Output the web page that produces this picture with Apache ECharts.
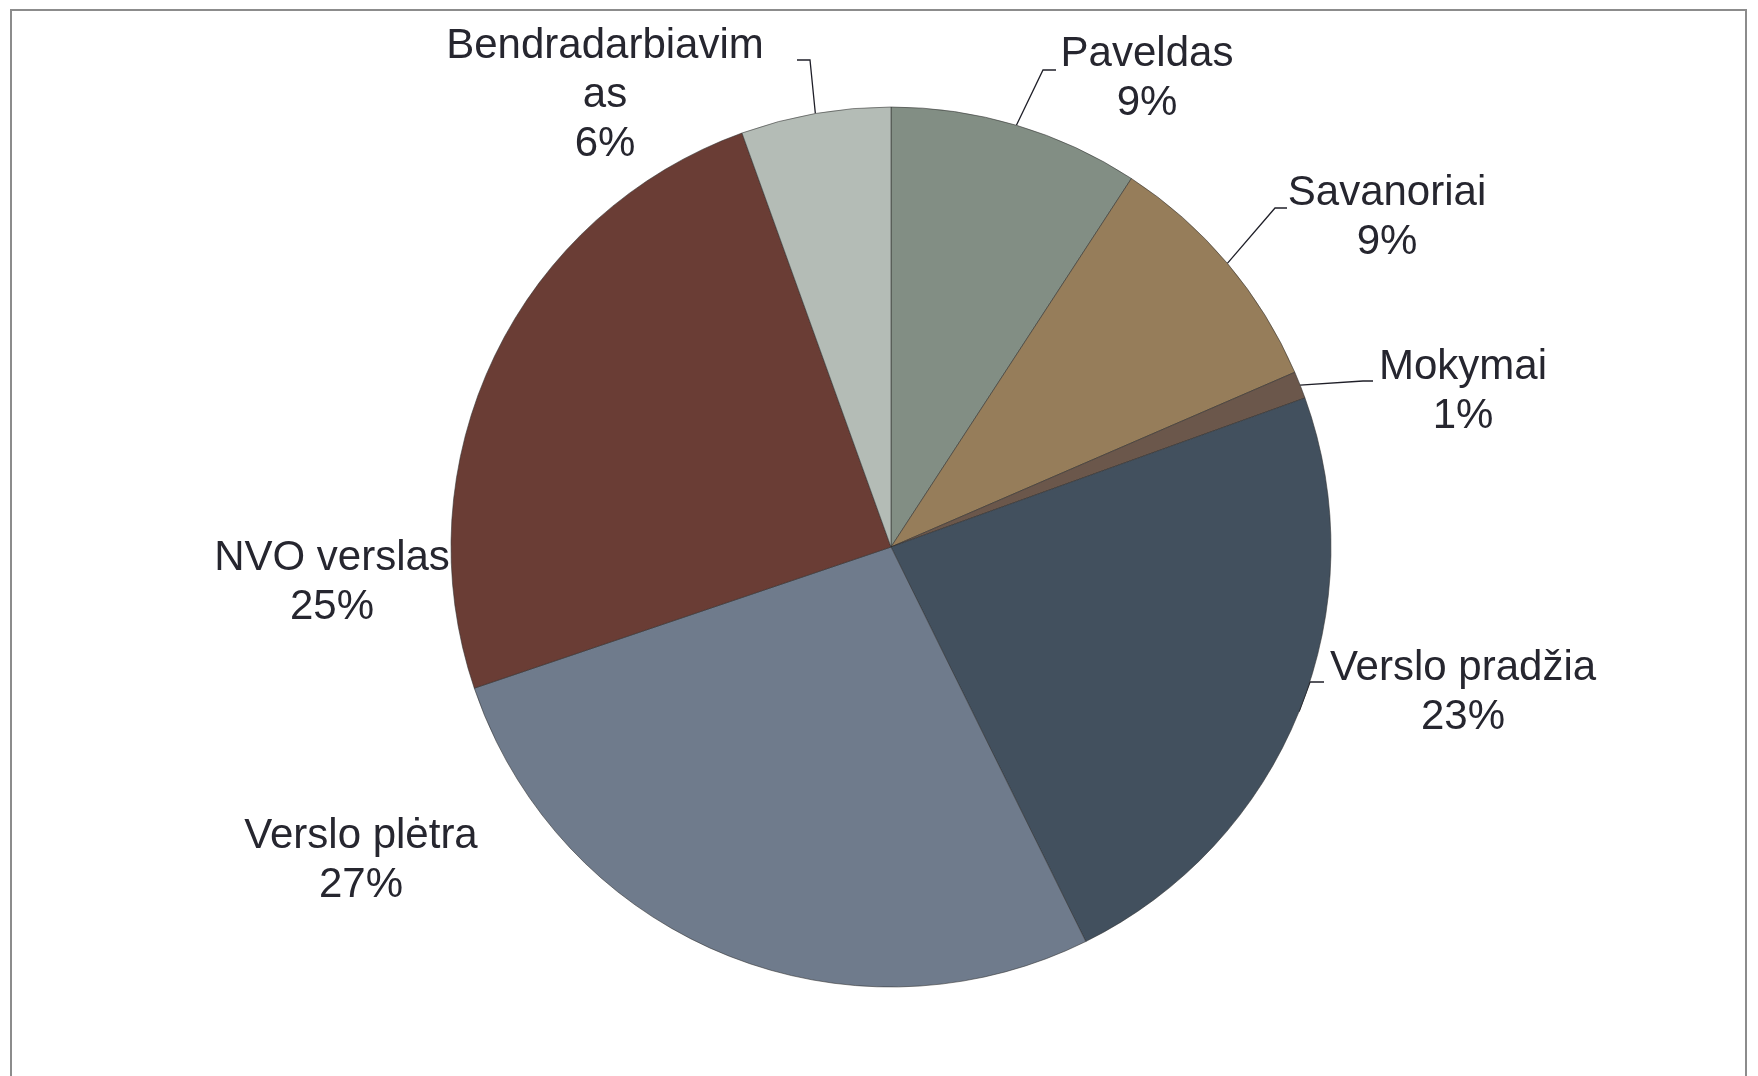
<!DOCTYPE html>
<html>
<head>
<meta charset="utf-8">
<title>Pie</title>
<script src="https://cdn.jsdelivr.net/npm/echarts@6/dist/echarts.min.js"></script>
<style>
  html, body { margin: 0; padding: 0; background: #fff; }
  #chart { width: 1758px; height: 1076px; }
</style>
</head>
<body>
<div id="chart"></div>
<script>
// data
const categories = ["Paveldas", "Savanoriai", "Mokymai", "Verslo pradžia", "Verslo plėtra", "NVO verslas", "Bendradarbiavimas"];
const shares = [9.2, 9.3, 1.0, 23.2, 27.1, 24.7, 5.5];

// look
const sliceColors = ["#828e84", "#967d5a", "#6b574b", "#42505e", "#6f7b8c", "#6a3d35", "#b4bcb6"];
const cx = 891, cy = 547, R = 440;
// where each label block sits (centre)
const labelX = [1147, 1387, 1463, 1463, 361, 332, 605];
const labelY = [79, 218, 392, 693, 861, 583, 95];
// leader lines: bend point + end x (null = no leader)
const leaderBend = [[1043, 70], [1275, 208], [1363, 381], [1310, 682], null, null, [810, 60]];
const leaderEndX = [1056, 1287, 1373, 1324, null, null, 797];

const chart = echarts.init(document.getElementById("chart"));

const total = shares.reduce((a, b) => a + b, 0);
function edgePoint(i) {
  let before = 0;
  for (let k = 0; k < i; k++) before += shares[k];
  const a = ((before + shares[i] / 2) / total) * 2 * Math.PI;
  return [cx + R * Math.sin(a), cy - R * Math.cos(a)];
}

chart.setOption({
  backgroundColor: "#fff",
  animation: false,
  graphic: [
    {
      type: "rect",
      shape: { x: 11, y: 10, width: 1735, height: 1200 },
      style: { fill: "none", stroke: "#8c8c8c", lineWidth: 2 },
    },
  ],
  series: [
    {
      type: "pie",
      center: [cx, cy],
      radius: R,
      startAngle: 90,
      clockwise: true,
      avoidLabelOverlap: false,
      itemStyle: {
        borderColor: "rgba(45,45,45,0.55)",
        borderWidth: 1,
      },
      label: {
        show: true,
        position: "outside",
        color: "#26262f",
        fontFamily: "Liberation Sans, Arial, sans-serif",
        fontSize: 42,
        lineHeight: 49,
        formatter: function (p) {
          let n = p.name;
          if (n.length > 15) n = n.slice(0, 15) + "\n" + n.slice(15);
          return n + "\n" + Math.round(p.percent) + "%";
        },
      },
      labelLine: {
        show: true,
        lineStyle: { color: "#1f1f28", width: 1.3 },
      },
      labelLayout: function (params) {
        const i = params.dataIndex;
        const out = {
          x: labelX[i],
          y: labelY[i],
          align: "center",
          verticalAlign: "middle",
        };
        if (leaderBend[i]) {
          out.labelLinePoints = [
            edgePoint(i),
            leaderBend[i],
            [leaderEndX[i], leaderBend[i][1]],
          ];
        }
        return out;
      },
      data: categories.map((name, i) => ({
        name: name,
        value: shares[i],
        itemStyle: { color: sliceColors[i] },
        labelLine: { show: leaderBend[i] !== null },
      })),
    },
  ],
});
</script>
</body>
</html>
